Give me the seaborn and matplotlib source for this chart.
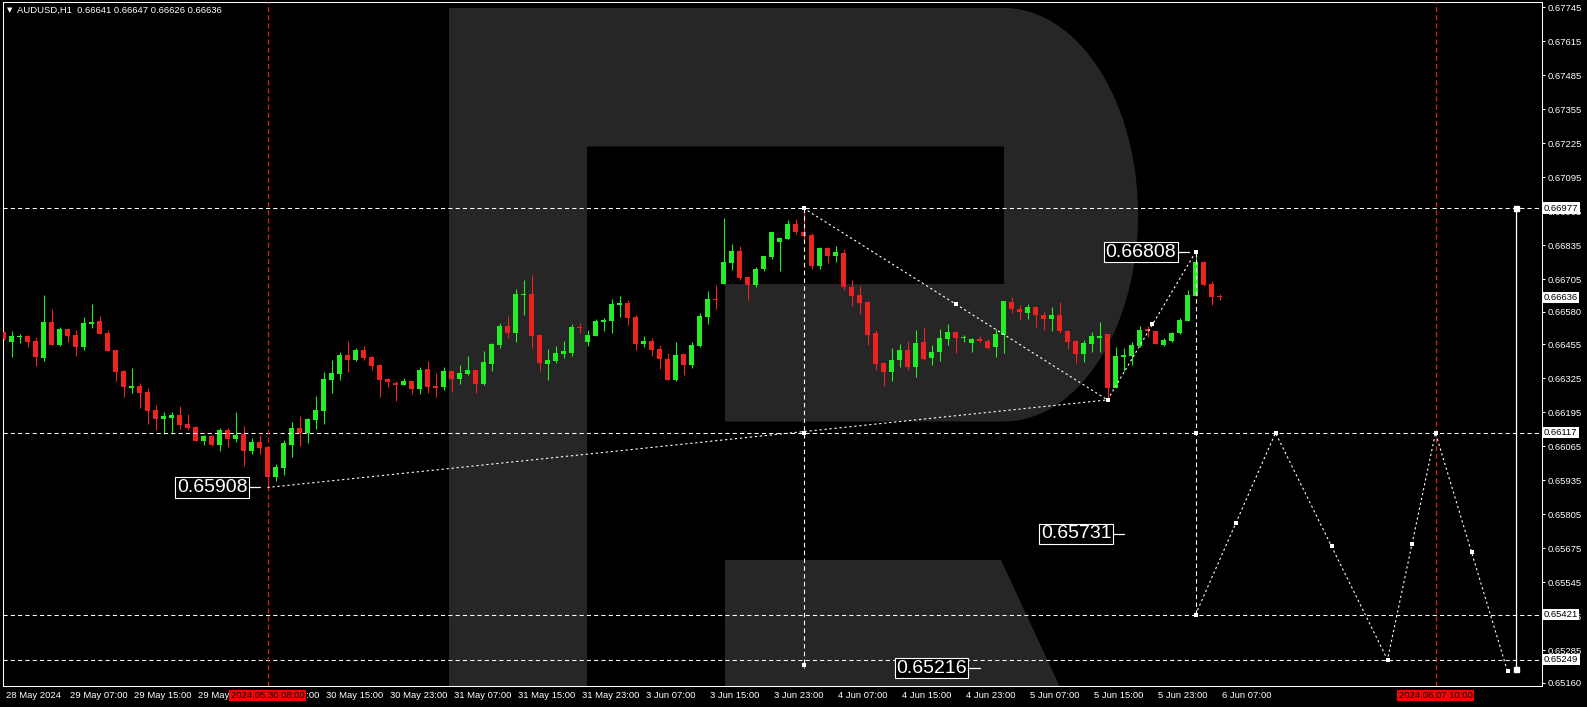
import matplotlib
matplotlib.use("Agg")
import matplotlib.pyplot as plt
import matplotlib.transforms as mtransforms
from matplotlib.patches import Polygon
import numpy as np
import pandas as pd
import seaborn as sns

# AUDUSD H1 candles, bar 0 = 28 May 23:00 ... bar 152 = 6 Jun 07:00
opens = [0.66504, 0.66466, 0.66482, 0.66487, 0.66468, 0.66404, 0.66541, 0.66454, 0.66514, 0.66491,
         0.66447, 0.66534, 0.66545, 0.66499, 0.66434, 0.66353, 0.66290, 0.66296, 0.66273, 0.66204,
         0.66171, 0.66175, 0.66185, 0.66152, 0.66139, 0.66087, 0.66105, 0.66072, 0.66128, 0.66093,
         0.66114, 0.66049, 0.66082, 0.66063, 0.65949, 0.65984, 0.66072, 0.66135, 0.66118, 0.66167,
         0.66200, 0.66319, 0.66342, 0.66415, 0.66396, 0.66434, 0.66407, 0.66376, 0.66323, 0.66308,
         0.66300, 0.66315, 0.66285, 0.66361, 0.66297, 0.66292, 0.66353, 0.66323, 0.66342, 0.66357,
         0.66304, 0.66380, 0.66453, 0.66526, 0.66499, 0.66644, 0.66648, 0.66491, 0.66380, 0.66392,
         0.66418, 0.66422, 0.66523, 0.66464, 0.66487, 0.66541, 0.66545, 0.66606, 0.66614, 0.66560,
         0.66457, 0.66468, 0.66438, 0.66399, 0.66319, 0.66418, 0.66376, 0.66449, 0.66560, 0.66629,
         0.66686, 0.66767, 0.66812, 0.66713, 0.66682, 0.66744, 0.66790, 0.66847, 0.66858, 0.66916,
         0.66885, 0.66874, 0.66755, 0.66824, 0.66793, 0.66805, 0.66675, 0.66644, 0.66617, 0.66499,
         0.66384, 0.66350, 0.66396, 0.66434, 0.66369, 0.66464, 0.66403, 0.66426, 0.66476, 0.66503,
         0.66480, 0.66461, 0.66476, 0.66468, 0.66445, 0.66491, 0.66617, 0.66591, 0.66575, 0.66598,
         0.66568, 0.66552, 0.66568, 0.66506, 0.66468, 0.66418, 0.66457, 0.66480, 0.66495, 0.66288,
         0.66407, 0.66411, 0.66449, 0.66514, 0.66506, 0.66453, 0.66468, 0.66499, 0.66545, 0.66640,
         0.66770, 0.66686, 0.66641]
highs = [0.66506, 0.66506, 0.66495, 0.66490, 0.66483, 0.66644, 0.66591, 0.66522, 0.66517, 0.66510,
         0.66560, 0.66610, 0.66564, 0.66509, 0.66434, 0.66359, 0.66365, 0.66308, 0.66288, 0.66223,
         0.66197, 0.66197, 0.66221, 0.66189, 0.66143, 0.66109, 0.66109, 0.66137, 0.66135, 0.66197,
         0.66144, 0.66097, 0.66110, 0.66063, 0.65998, 0.66090, 0.66158, 0.66181, 0.66174, 0.66259,
         0.66350, 0.66396, 0.66426, 0.66469, 0.66441, 0.66449, 0.66411, 0.66380, 0.66328, 0.66315,
         0.66327, 0.66315, 0.66369, 0.66392, 0.66346, 0.66370, 0.66353, 0.66376, 0.66411, 0.66357,
         0.66430, 0.66461, 0.66537, 0.66564, 0.66667, 0.66702, 0.66721, 0.66495, 0.66438, 0.66449,
         0.66468, 0.66533, 0.66537, 0.66510, 0.66552, 0.66556, 0.66629, 0.66640, 0.66625, 0.66568,
         0.66487, 0.66480, 0.66453, 0.66422, 0.66464, 0.66418, 0.66464, 0.66575, 0.66659, 0.66682,
         0.66939, 0.66839, 0.66832, 0.66713, 0.66751, 0.66793, 0.66885, 0.66862, 0.66931, 0.66935,
         0.66977, 0.66881, 0.66828, 0.66828, 0.66832, 0.66820, 0.66702, 0.66679, 0.66621, 0.66510,
         0.66388, 0.66441, 0.66457, 0.66468, 0.66510, 0.66522, 0.66453, 0.66514, 0.66533, 0.66503,
         0.66491, 0.66480, 0.66487, 0.66476, 0.66514, 0.66621, 0.66636, 0.66606, 0.66610, 0.66602,
         0.66579, 0.66598, 0.66617, 0.66510, 0.66472, 0.66472, 0.66503, 0.66541, 0.66495, 0.66445,
         0.66441, 0.66464, 0.66526, 0.66526, 0.66506, 0.66480, 0.66503, 0.66556, 0.66663, 0.66808,
         0.66774, 0.66698, 0.66647]
lows = [0.66473, 0.66408, 0.66462, 0.66447, 0.66374, 0.66393, 0.66454, 0.66450, 0.66463, 0.66412,
        0.66435, 0.66519, 0.66494, 0.66431, 0.66316, 0.66255, 0.66271, 0.66213, 0.66152, 0.66129,
        0.66111, 0.66111, 0.66133, 0.66129, 0.66087, 0.66070, 0.66068, 0.66049, 0.66061, 0.66083,
        0.65991, 0.66035, 0.66037, 0.65905, 0.65934, 0.65957, 0.66026, 0.66068, 0.66079, 0.66131,
        0.66152, 0.66269, 0.66320, 0.66350, 0.66392, 0.66396, 0.66357, 0.66254, 0.66292, 0.66239,
        0.66300, 0.66265, 0.66265, 0.66269, 0.66254, 0.66281, 0.66273, 0.66304, 0.66338, 0.66269,
        0.66300, 0.66353, 0.66441, 0.66480, 0.66464, 0.66568, 0.66441, 0.66353, 0.66319, 0.66384,
        0.66403, 0.66411, 0.66499, 0.66449, 0.66487, 0.66506, 0.66499, 0.66560, 0.66529, 0.66434,
        0.66445, 0.66411, 0.66361, 0.66319, 0.66315, 0.66338, 0.66365, 0.66445, 0.66533, 0.66591,
        0.66686, 0.66740, 0.66702, 0.66625, 0.66675, 0.66736, 0.66782, 0.66736, 0.66858, 0.66877,
        0.66854, 0.66744, 0.66744, 0.66767, 0.66770, 0.66663, 0.66602, 0.66571, 0.66453, 0.66357,
        0.66296, 0.66315, 0.66369, 0.66357, 0.66330, 0.66396, 0.66376, 0.66392, 0.66453, 0.66422,
        0.66464, 0.66426, 0.66464, 0.66438, 0.66407, 0.66422, 0.66575, 0.66549, 0.66552, 0.66522,
        0.66510, 0.66506, 0.66499, 0.66438, 0.66384, 0.66388, 0.66426, 0.66426, 0.66245, 0.66288,
        0.66353, 0.66376, 0.66445, 0.66483, 0.66457, 0.66449, 0.66464, 0.66495, 0.66545, 0.66640,
        0.66679, 0.66606, 0.66626]
closes = [0.66476, 0.66487, 0.66487, 0.66466, 0.66408, 0.66541, 0.66454, 0.66514, 0.66489, 0.66447,
          0.66537, 0.66542, 0.66496, 0.66431, 0.66351, 0.66291, 0.66297, 0.66269, 0.66202, 0.66171,
          0.66183, 0.66185, 0.66148, 0.66137, 0.66087, 0.66105, 0.66070, 0.66128, 0.66095, 0.66109,
          0.66049, 0.66082, 0.66060, 0.65949, 0.65986, 0.66078, 0.66135, 0.66118, 0.66170, 0.66204,
          0.66323, 0.66346, 0.66415, 0.66396, 0.66434, 0.66404, 0.66373, 0.66319, 0.66311, 0.66300,
          0.66315, 0.66285, 0.66357, 0.66292, 0.66288, 0.66353, 0.66323, 0.66346, 0.66357, 0.66304,
          0.66388, 0.66457, 0.66526, 0.66499, 0.66648, 0.66649, 0.66487, 0.66384, 0.66396, 0.66422,
          0.66430, 0.66522, 0.66518, 0.66491, 0.66545, 0.66550, 0.66610, 0.66614, 0.66556, 0.66457,
          0.66468, 0.66434, 0.66399, 0.66319, 0.66415, 0.66376, 0.66453, 0.66564, 0.66629, 0.66626,
          0.66770, 0.66812, 0.66709, 0.66682, 0.66744, 0.66793, 0.66885, 0.66862, 0.66916, 0.66885,
          0.66870, 0.66755, 0.66824, 0.66793, 0.66809, 0.66675, 0.66640, 0.66614, 0.66491, 0.66380,
          0.66350, 0.66396, 0.66434, 0.66369, 0.66461, 0.66399, 0.66426, 0.66480, 0.66503, 0.66480,
          0.66483, 0.66476, 0.66469, 0.66441, 0.66495, 0.66621, 0.66591, 0.66579, 0.66598, 0.66568,
          0.66552, 0.66568, 0.66506, 0.66464, 0.66418, 0.66461, 0.66487, 0.66487, 0.66288, 0.66411,
          0.66415, 0.66453, 0.66510, 0.66506, 0.66457, 0.66472, 0.66499, 0.66549, 0.66644, 0.66770,
          0.66682, 0.66636, 0.66636]

time_labels = ["28 May 2024", "29 May 07:00", "29 May 15:00", "29 May 23:00", "30 May 07:00",
               "30 May 15:00", "30 May 23:00", "31 May 07:00", "31 May 15:00", "31 May 23:00",
               "3 Jun 07:00", "3 Jun 15:00", "3 Jun 23:00", "4 Jun 07:00", "4 Jun 15:00",
               "4 Jun 23:00", "5 Jun 07:00", "5 Jun 15:00", "5 Jun 23:00", "6 Jun 07:00"]
time_label_bars = list(range(0, 153, 8))

price_ticks = [0.67745, 0.67615, 0.67485, 0.67355, 0.67225, 0.67095, 0.66965, 0.66835, 0.66705,
               0.66580, 0.66455, 0.66325, 0.66195, 0.66065, 0.65935, 0.65805, 0.65675, 0.65545,
               0.65415, 0.65285, 0.65160]

level_prices = [0.66977, 0.66117, 0.65421, 0.65249]
axis_box_prices = [0.66977, 0.66636, 0.66117, 0.65421, 0.65249]

# red time markers (bar index, label)
time_marks = [(33, "2024.05.30 08:00"), (179, "2024.06.07 10:00")]

# wave lines (bar, price)
trend_a = ([33, 138], [0.65908, 0.66243])
trend_b = ([100, 138], [0.66977, 0.66243])
trend_c = ([138, 149], [0.66243, 0.66808])
drop_1 = ([100, 100], [0.66977, 0.65216])
drop_2 = ([149, 149], [0.66808, 0.65421])
forecast_bars = [149, 159, 173, 179, 188]
forecast_prices = [0.65421, 0.66117, 0.65249, 0.66117, 0.65205]
target_bar = 189
target_prices = [0.66977, 0.65214]

point_bars = [100, 100, 100, 119, 138, 143.5, 149, 149, 149, 154, 159, 166, 173, 176, 179, 183.5, 188]
point_prices = [0.66977, 0.66117, 0.65230, 0.66609, 0.66243, 0.66532, 0.66808, 0.66117, 0.65421,
                0.65772, 0.66117, 0.65683, 0.65249, 0.65690, 0.66117, 0.65660, 0.65205]

# text labels: (right edge bar, price, text)
price_labels = [(30.5, 0.65908, "0.65908"), (146.6, 0.66808, "0.66808"),
                (138.5, 0.65731, "0.65731"), (120.4, 0.65216, "0.65216")]

title = "AUDUSD,H1  0.66641 0.66647 0.66626 0.66636"

sns.set_theme(style="dark")
plt.rcParams['font.family'] = ['Liberation Sans', 'DejaVu Sans']

W, H = 1587, 707
fig = plt.figure(figsize=(W / 100, H / 100), dpi=100)
fig.patch.set_facecolor("black")
L, R, T, B = 2.5, 1542.0, 2.0, 686.0
ax = fig.add_axes([L / W, (H - B) / H, (R - L) / W, (B - T) / H])
ax.set_facecolor("black")
ax.grid(False)

ax.set_xlim((L - 3.5) / 8, (R - 3.5) / 8)
ax.set_ylim(0.67745 - (B - 7.3) / 26139, 0.67745 - (T - 7.3) / 26139)


def to_axes(px, py):
    return ((px - L) / (R - L), (B - py) / (B - T))


# watermark "R"
wm = "#262626"
stem = [(448.5, 8), (586.7, 8), (586.7, 700), (448.5, 700)]
t = np.linspace(-np.pi / 2, np.pi / 2, 80)
bowl = [(586.7, 8), (1004, 8)]
bowl += [(1004 + 134 * np.cos(a), 214.75 + 206.75 * np.sin(a)) for a in t]
bowl += [(1004, 421.5), (725, 421.5), (725, 284), (1004, 284), (1004, 146.5), (586.7, 146.5)]
leg = [(725, 560), (1001, 560), (1066, 700), (725, 700)]
for shape in (stem, bowl, leg):
    ax.add_patch(Polygon([to_axes(*p) for p in shape], closed=True, transform=ax.transAxes,
                         fc=wm, ec="none", zorder=0, clip_on=True))

# candles
bars = np.arange(len(opens))
o = np.array(opens)
c = np.array(closes)
cols = np.where(c > o, "#22ee22", "#ee2222")
ax.vlines(bars, lows, highs, colors=cols, lw=0.8, zorder=3)
body_h = np.maximum(np.abs(c - o), 0.00004)
ax.bar(bars, body_h, bottom=np.minimum(o, c), width=0.62, color=cols, lw=0, zorder=3.1)

# horizontal levels
for p in level_prices:
    ax.axhline(p, color="white", lw=0.75, ls=(0, (4, 3)), zorder=4)

# red time lines
for b, _ in time_marks:
    ax.axvline(b, color="#e81c1c", lw=0.9, ls=(0, (4, 2.5)), zorder=4)

# wave lines
segs = []
for i, (xs, ys) in enumerate([trend_a, trend_b, trend_c]):
    for xv, yv in zip(xs, ys):
        segs.append({"seg": i, "bar": xv, "price": yv})
for xv, yv in zip(forecast_bars, forecast_prices):
    segs.append({"seg": 10, "bar": xv, "price": yv})
seg_df = pd.DataFrame(segs)
sns.lineplot(data=seg_df, x="bar", y="price", units="seg", estimator=None, sort=False,
             color="white", lw=0.8, linestyle=(0, (2, 2.5)), ax=ax, legend=False, zorder=5)
for xs, ys in (drop_1, drop_2):
    ax.plot(xs, ys, color="white", lw=0.8, ls=(0, (4, 3)), zorder=5)
ax.plot([target_bar, target_bar], target_prices, color="white", lw=0.9, zorder=5)
ax.plot([target_bar, target_bar], target_prices, ls="none", marker="s", ms=3.6,
        color="white", zorder=5)
sns.scatterplot(x=point_bars, y=point_prices, ax=ax, color="white", marker="s", s=7,
                linewidth=0, zorder=6, legend=False)

# price label boxes on chart
for xb, p, txt in price_labels:
    ax.text(xb, p, txt, ha="right", va="center", fontsize=14, color="white", zorder=7,
            bbox=dict(boxstyle="square,pad=0.08", fc="black", ec="white", lw=0.8))
    ax.plot([xb + 0.2, xb + 1.6], [p, p], color="white", lw=0.9, zorder=7)

# axes frame and ticks
for sp in ax.spines.values():
    sp.set_color("white")
    sp.set_linewidth(0.75)
ax.yaxis.tick_right()
ax.set_yticks(price_ticks)
ax.set_yticklabels([f"{v:.5f}" for v in price_ticks])
ax.tick_params(axis="y", colors="white", labelsize=6.8, length=2.5, width=0.75, pad=1.5,
               direction="out", right=True, left=False)
ax.set_xticks(time_label_bars)
ax.set_xticklabels([])
ax.tick_params(axis="x", colors="white", length=2.5, width=0.75, direction="out")
ax.set_xlabel("")
ax.set_ylabel("")

xb_trans = mtransforms.blended_transform_factory(ax.transData, ax.transAxes)
yb_trans = mtransforms.blended_transform_factory(ax.transAxes, ax.transData)
lab_y = -9.5 / (B - T)
for b, txt in zip(time_label_bars, time_labels):
    ax.text(b + 0.25, lab_y, txt, transform=xb_trans, ha="left", va="center", fontsize=6.8,
            color="white", clip_on=False, zorder=3)
for b, txt in time_marks:
    ax.text(b, lab_y, txt, transform=xb_trans, ha="center", va="center", fontsize=6.8,
            color="black", clip_on=False, zorder=8,
            bbox=dict(boxstyle="square,pad=0.12", fc="#ff0000", ec="none"))
for p in axis_box_prices:
    ax.text(1.0 + 2 / (R - L), p, f"{p:.5f}", transform=yb_trans, ha="left", va="center",
            fontsize=6.8, color="black", clip_on=False, zorder=8,
            bbox=dict(boxstyle="square,pad=0.12", fc="white", ec="none"))

fig.text(7 / W, 1 - 10.5 / H, "\u25bc", fontsize=5, color="white", va="center",
         family="DejaVu Sans")
fig.text(17 / W, 1 - 10.5 / H, title, fontsize=6.8, color="white", va="center")

fig.savefig("out.png", dpi=100, facecolor="black")
